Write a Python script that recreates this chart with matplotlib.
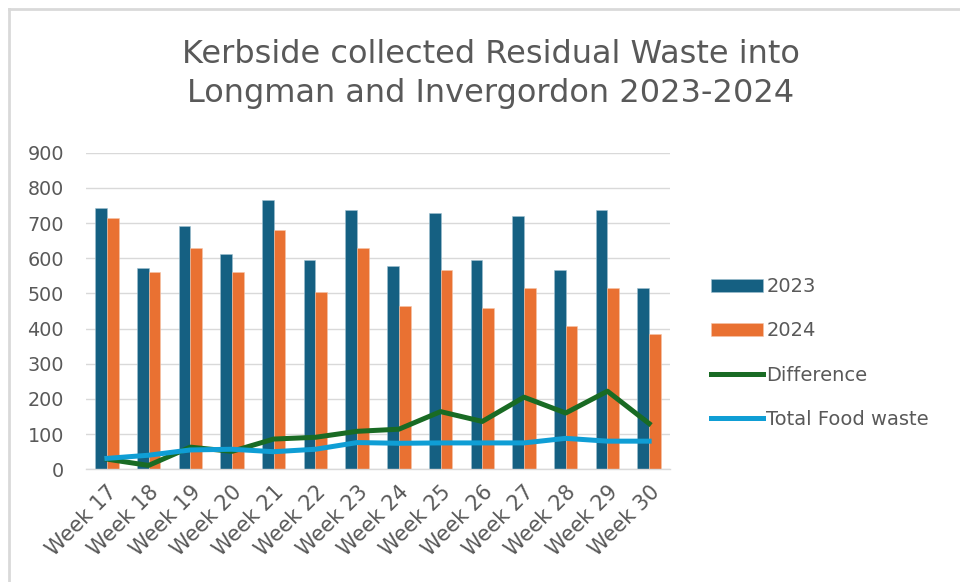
import matplotlib
matplotlib.use("Agg")
import matplotlib.pyplot as plt
import numpy as np

weeks = ["Week 17", "Week 18", "Week 19", "Week 20", "Week 21", "Week 22", "Week 23",
         "Week 24", "Week 25", "Week 26", "Week 27", "Week 28", "Week 29", "Week 30"]
y2023 = [742, 571, 691, 611, 765, 594, 736, 577, 730, 594, 719, 566, 736, 514]
y2024 = [713, 560, 628, 560, 679, 503, 628, 463, 566, 458, 514, 406, 514, 384]
difference = [29, 11, 63, 51, 86, 91, 108, 114, 164, 136, 205, 160, 222, 130]
food_waste = [31, 40, 55, 57, 50, 57, 76, 74, 75, 75, 75, 88, 80, 80]
yticks = [0, 100, 200, 300, 400, 500, 600, 700, 800, 900]

plt.rcParams["font.family"] = ["DejaVu Sans"]

C23 = "#156082"
C24 = "#E97132"
CDIFF = "#196B24"
CFOOD = "#0F9ED5"
TXT = "#595959"

fig = plt.figure(figsize=(9.6, 5.82), dpi=100)
W, H = 960, 582
ax = fig.add_axes([86 / W, 1 - 469.3 / H, (670 - 86) / W, (469.3 - 152.7) / H])

x = np.arange(len(weeks))
bw = 0.28
b1 = ax.bar(x - bw / 2, y2023, width=bw, color=C23, edgecolor="#9fc0d0", linewidth=0.4, label="2023", zorder=2)
b2 = ax.bar(x + bw / 2, y2024, width=bw, color=C24, edgecolor="#f5c4a8", linewidth=0.4, label="2024", zorder=2)
l1, = ax.plot(x, difference, color=CDIFF, lw=3.6, label="Difference", zorder=3, solid_joinstyle="round")
l2, = ax.plot(x, food_waste, color=CFOOD, lw=3.6, label="Total Food waste", zorder=4, solid_joinstyle="round")

ax.set_xlim(-0.5, len(weeks) - 0.5)
ax.set_ylim(0, 900)
ax.set_yticks(yticks)
ax.set_yticklabels([str(v) for v in yticks], fontsize=13.8, color=TXT)
ax.set_xticks(x)
ax.set_xticklabels(weeks, rotation=45, ha="right", rotation_mode="anchor", fontsize=15, color=TXT)
ax.tick_params(axis="x", length=0, pad=9)
ax.tick_params(axis="y", length=0, pad=16)
ax.grid(axis="y", color="#D9D9D9", lw=1.0, zorder=0)
ax.set_axisbelow(True)
for s in ["top", "right", "left"]:
    ax.spines[s].set_visible(False)
ax.spines["bottom"].set_color("#D9D9D9")
ax.spines["bottom"].set_linewidth(1.0)

fig.text(490.5 / W, 1 - 63 / H, "Kerbside collected Residual Waste into", ha="center", va="baseline",
         fontsize=23, color=TXT)
fig.text(490.5 / W, 1 - 102 / H, "Longman and Invergordon 2023-2024", ha="center", va="baseline",
         fontsize=23, color=TXT)

leg = fig.legend([b1, b2, l1, l2], ["2023", "2024", "Difference", "Total Food waste"],
                 loc="center left", bbox_to_anchor=(711 / W, 1 - 353 / H), frameon=False,
                 fontsize=14, labelcolor=TXT, handlelength=2.65, handletextpad=0.2,
                 labelspacing=1.3, handleheight=0.62, borderpad=0, borderaxespad=0)

fig.add_artist(plt.Line2D([9 / W, 9 / W], [0, 1 - 9 / H], transform=fig.transFigure, color="#D9D9D9", lw=2))
fig.add_artist(plt.Line2D([9 / W, 1], [1 - 9 / H, 1 - 9 / H], transform=fig.transFigure, color="#D9D9D9", lw=2))

fig.savefig("out.png", dpi=100, facecolor="white")
